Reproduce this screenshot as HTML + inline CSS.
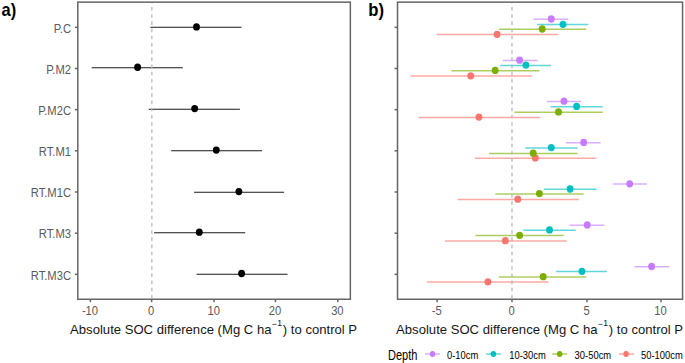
<!DOCTYPE html><html><head><meta charset="utf-8"><style>html,body{margin:0;padding:0;background:#fff;}svg{display:block;}text{font-family:"Liberation Sans",sans-serif;}</style></head><body>
<svg width="685" height="363" viewBox="0 0 685 363">
<rect width="685" height="363" fill="#fff"/>
<text transform="translate(1.60,16.20) scale(1,1.08)" font-size="16.5" fill="#000" font-weight="bold">a)</text>
<text transform="translate(368.20,16.10) scale(1,1.08)" font-size="16.7" fill="#000" font-weight="bold">b)</text>
<line x1="150.4" y1="27.30" x2="241.5" y2="27.30" stroke="#1a1a1a" stroke-width="1.1"/>
<line x1="91.7" y1="67.80" x2="182.8" y2="67.80" stroke="#1a1a1a" stroke-width="1.1"/>
<line x1="148.8" y1="109.30" x2="239.9" y2="109.30" stroke="#1a1a1a" stroke-width="1.1"/>
<line x1="171.2" y1="150.80" x2="262.1" y2="150.80" stroke="#1a1a1a" stroke-width="1.1"/>
<line x1="194.1" y1="192.20" x2="284.1" y2="192.20" stroke="#1a1a1a" stroke-width="1.1"/>
<line x1="154.1" y1="232.70" x2="245.2" y2="232.70" stroke="#1a1a1a" stroke-width="1.1"/>
<line x1="196.7" y1="274.20" x2="287.5" y2="274.20" stroke="#1a1a1a" stroke-width="1.1"/>
<line x1="533.3" y1="19.30" x2="568.3" y2="19.30" stroke="#C77CFF" stroke-width="1.5" stroke-opacity="0.62"/>
<line x1="537.1" y1="24.60" x2="588.2" y2="24.60" stroke="#00BFC4" stroke-width="1.5" stroke-opacity="0.62"/>
<line x1="498.8" y1="29.30" x2="586.4" y2="29.30" stroke="#7CAE00" stroke-width="1.5" stroke-opacity="0.62"/>
<line x1="436.8" y1="34.60" x2="558.3" y2="34.60" stroke="#F8766D" stroke-width="1.5" stroke-opacity="0.62"/>
<line x1="502.8" y1="60.50" x2="537.6" y2="60.50" stroke="#C77CFF" stroke-width="1.5" stroke-opacity="0.62"/>
<line x1="500.2" y1="65.40" x2="551.1" y2="65.40" stroke="#00BFC4" stroke-width="1.5" stroke-opacity="0.62"/>
<line x1="451.5" y1="70.70" x2="539.5" y2="70.70" stroke="#7CAE00" stroke-width="1.5" stroke-opacity="0.62"/>
<line x1="410.5" y1="76.10" x2="532.1" y2="76.10" stroke="#F8766D" stroke-width="1.5" stroke-opacity="0.62"/>
<line x1="546.9" y1="101.50" x2="581.1" y2="101.50" stroke="#C77CFF" stroke-width="1.5" stroke-opacity="0.62"/>
<line x1="550.6" y1="106.70" x2="602.8" y2="106.70" stroke="#00BFC4" stroke-width="1.5" stroke-opacity="0.62"/>
<line x1="514.4" y1="112.20" x2="602.8" y2="112.20" stroke="#7CAE00" stroke-width="1.5" stroke-opacity="0.62"/>
<line x1="418.6" y1="117.40" x2="540.2" y2="117.40" stroke="#F8766D" stroke-width="1.5" stroke-opacity="0.62"/>
<line x1="566.0" y1="142.70" x2="600.6" y2="142.70" stroke="#C77CFF" stroke-width="1.5" stroke-opacity="0.62"/>
<line x1="525.2" y1="147.90" x2="577.4" y2="147.90" stroke="#00BFC4" stroke-width="1.5" stroke-opacity="0.62"/>
<line x1="489.0" y1="153.50" x2="577.6" y2="153.50" stroke="#7CAE00" stroke-width="1.5" stroke-opacity="0.62"/>
<line x1="474.8" y1="158.20" x2="596.2" y2="158.20" stroke="#F8766D" stroke-width="1.5" stroke-opacity="0.62"/>
<line x1="612.7" y1="184.10" x2="647.0" y2="184.10" stroke="#C77CFF" stroke-width="1.5" stroke-opacity="0.62"/>
<line x1="544.0" y1="189.30" x2="596.4" y2="189.30" stroke="#00BFC4" stroke-width="1.5" stroke-opacity="0.62"/>
<line x1="495.4" y1="193.90" x2="583.7" y2="193.90" stroke="#7CAE00" stroke-width="1.5" stroke-opacity="0.62"/>
<line x1="457.6" y1="199.50" x2="579.1" y2="199.50" stroke="#F8766D" stroke-width="1.5" stroke-opacity="0.62"/>
<line x1="569.6" y1="225.30" x2="604.4" y2="225.30" stroke="#C77CFF" stroke-width="1.5" stroke-opacity="0.62"/>
<line x1="523.3" y1="230.20" x2="575.8" y2="230.20" stroke="#00BFC4" stroke-width="1.5" stroke-opacity="0.62"/>
<line x1="475.5" y1="235.60" x2="563.8" y2="235.60" stroke="#7CAE00" stroke-width="1.5" stroke-opacity="0.62"/>
<line x1="445.1" y1="241.00" x2="566.7" y2="241.00" stroke="#F8766D" stroke-width="1.5" stroke-opacity="0.62"/>
<line x1="634.4" y1="266.80" x2="669.4" y2="266.80" stroke="#C77CFF" stroke-width="1.5" stroke-opacity="0.62"/>
<line x1="556.1" y1="271.60" x2="607.1" y2="271.60" stroke="#00BFC4" stroke-width="1.5" stroke-opacity="0.62"/>
<line x1="498.8" y1="277.00" x2="586.4" y2="277.00" stroke="#7CAE00" stroke-width="1.5" stroke-opacity="0.62"/>
<line x1="426.9" y1="282.10" x2="548.5" y2="282.10" stroke="#F8766D" stroke-width="1.5" stroke-opacity="0.62"/>
<line x1="151.85" y1="2.15" x2="151.85" y2="299.26" stroke="#b8b8b8" stroke-width="1.3" stroke-dasharray="3.6 3.6" stroke-dashoffset="2.4"/>
<line x1="511.98" y1="2.15" x2="511.98" y2="299.26" stroke="#b8b8b8" stroke-width="1.3" stroke-dasharray="3.6 3.6" stroke-dashoffset="2.4"/>
<ellipse cx="196.5" cy="26.9" rx="3.45" ry="3.65" fill="#000"/>
<ellipse cx="137.6" cy="67.25" rx="3.45" ry="3.65" fill="#000"/>
<ellipse cx="194.7" cy="108.6" rx="3.45" ry="3.65" fill="#000"/>
<ellipse cx="216.3" cy="150.1" rx="3.45" ry="3.65" fill="#000"/>
<ellipse cx="238.9" cy="191.6" rx="3.45" ry="3.65" fill="#000"/>
<ellipse cx="199.3" cy="232.2" rx="3.45" ry="3.65" fill="#000"/>
<ellipse cx="241.6" cy="273.5" rx="3.45" ry="3.65" fill="#000"/>
<ellipse cx="497.1" cy="34.3" rx="3.45" ry="3.65" fill="#F8766D"/>
<ellipse cx="542.2" cy="29.0" rx="3.45" ry="3.65" fill="#7CAE00"/>
<ellipse cx="563.0" cy="24.3" rx="3.45" ry="3.65" fill="#00BFC4"/>
<ellipse cx="551.3" cy="19.0" rx="3.45" ry="3.65" fill="#C77CFF"/>
<ellipse cx="470.7" cy="75.8" rx="3.45" ry="3.65" fill="#F8766D"/>
<ellipse cx="495.2" cy="70.4" rx="3.45" ry="3.65" fill="#7CAE00"/>
<ellipse cx="525.9" cy="65.1" rx="3.45" ry="3.65" fill="#00BFC4"/>
<ellipse cx="519.6" cy="60.2" rx="3.45" ry="3.65" fill="#C77CFF"/>
<ellipse cx="478.9" cy="117.1" rx="3.45" ry="3.65" fill="#F8766D"/>
<ellipse cx="558.5" cy="111.9" rx="3.45" ry="3.65" fill="#7CAE00"/>
<ellipse cx="576.6" cy="106.4" rx="3.45" ry="3.65" fill="#00BFC4"/>
<ellipse cx="564.0" cy="101.2" rx="3.45" ry="3.65" fill="#C77CFF"/>
<ellipse cx="535.3" cy="157.9" rx="3.45" ry="3.65" fill="#F8766D"/>
<ellipse cx="533.2" cy="153.2" rx="3.45" ry="3.65" fill="#7CAE00"/>
<ellipse cx="551.3" cy="147.6" rx="3.45" ry="3.65" fill="#00BFC4"/>
<ellipse cx="583.7" cy="142.4" rx="3.45" ry="3.65" fill="#C77CFF"/>
<ellipse cx="517.8" cy="199.2" rx="3.45" ry="3.65" fill="#F8766D"/>
<ellipse cx="539.4" cy="193.6" rx="3.45" ry="3.65" fill="#7CAE00"/>
<ellipse cx="570.1" cy="189.0" rx="3.45" ry="3.65" fill="#00BFC4"/>
<ellipse cx="629.7" cy="183.8" rx="3.45" ry="3.65" fill="#C77CFF"/>
<ellipse cx="505.3" cy="240.7" rx="3.45" ry="3.65" fill="#F8766D"/>
<ellipse cx="519.6" cy="235.3" rx="3.45" ry="3.65" fill="#7CAE00"/>
<ellipse cx="549.5" cy="229.9" rx="3.45" ry="3.65" fill="#00BFC4"/>
<ellipse cx="587.2" cy="225.0" rx="3.45" ry="3.65" fill="#C77CFF"/>
<ellipse cx="487.9" cy="281.8" rx="3.45" ry="3.65" fill="#F8766D"/>
<ellipse cx="543.2" cy="276.7" rx="3.45" ry="3.65" fill="#7CAE00"/>
<ellipse cx="582.0" cy="271.3" rx="3.45" ry="3.65" fill="#00BFC4"/>
<ellipse cx="651.6" cy="266.5" rx="3.45" ry="3.65" fill="#C77CFF"/>
<rect x="77.8" y="2.15" width="272.55" height="297.11" fill="none" stroke="#666666" stroke-width="1.5"/>
<rect x="397.52" y="2.15" width="285.05" height="297.11" fill="none" stroke="#666666" stroke-width="1.5"/>
<line x1="74.85" y1="27.33" x2="77.80" y2="27.33" stroke="#666666" stroke-width="1.5"/>
<line x1="394.57" y1="27.33" x2="397.52" y2="27.33" stroke="#666666" stroke-width="1.5"/>
<text transform="translate(71.00,32.63) scale(1,1.06)" font-size="11.2" fill="#5a5a5a" text-anchor="end">P.C</text>
<line x1="74.85" y1="68.50" x2="77.80" y2="68.50" stroke="#666666" stroke-width="1.5"/>
<line x1="394.57" y1="68.50" x2="397.52" y2="68.50" stroke="#666666" stroke-width="1.5"/>
<text transform="translate(71.00,73.80) scale(1,1.06)" font-size="11.2" fill="#5a5a5a" text-anchor="end">P.M2</text>
<line x1="74.85" y1="109.66" x2="77.80" y2="109.66" stroke="#666666" stroke-width="1.5"/>
<line x1="394.57" y1="109.66" x2="397.52" y2="109.66" stroke="#666666" stroke-width="1.5"/>
<text transform="translate(71.00,114.96) scale(1,1.06)" font-size="11.2" fill="#5a5a5a" text-anchor="end">P.M2C</text>
<line x1="74.85" y1="150.83" x2="77.80" y2="150.83" stroke="#666666" stroke-width="1.5"/>
<line x1="394.57" y1="150.83" x2="397.52" y2="150.83" stroke="#666666" stroke-width="1.5"/>
<text transform="translate(71.00,156.13) scale(1,1.06)" font-size="11.2" fill="#5a5a5a" text-anchor="end">RT.M1</text>
<line x1="74.85" y1="192.00" x2="77.80" y2="192.00" stroke="#666666" stroke-width="1.5"/>
<line x1="394.57" y1="192.00" x2="397.52" y2="192.00" stroke="#666666" stroke-width="1.5"/>
<text transform="translate(71.00,197.30) scale(1,1.06)" font-size="11.2" fill="#5a5a5a" text-anchor="end">RT.M1C</text>
<line x1="74.85" y1="233.17" x2="77.80" y2="233.17" stroke="#666666" stroke-width="1.5"/>
<line x1="394.57" y1="233.17" x2="397.52" y2="233.17" stroke="#666666" stroke-width="1.5"/>
<text transform="translate(71.00,238.47) scale(1,1.06)" font-size="11.2" fill="#5a5a5a" text-anchor="end">RT.M3</text>
<line x1="74.85" y1="274.33" x2="77.80" y2="274.33" stroke="#666666" stroke-width="1.5"/>
<line x1="394.57" y1="274.33" x2="397.52" y2="274.33" stroke="#666666" stroke-width="1.5"/>
<text transform="translate(71.00,279.63) scale(1,1.06)" font-size="11.2" fill="#5a5a5a" text-anchor="end">RT.M3C</text>
<line x1="90.36" y1="299.26" x2="90.36" y2="302.21" stroke="#666666" stroke-width="1.5"/>
<text transform="translate(89.96,314.50) scale(1,1.08)" font-size="11.2" fill="#5a5a5a" text-anchor="middle">-10</text>
<line x1="151.63" y1="299.26" x2="151.63" y2="302.21" stroke="#666666" stroke-width="1.5"/>
<text transform="translate(151.23,314.50) scale(1,1.08)" font-size="11.2" fill="#5a5a5a" text-anchor="middle">0</text>
<line x1="214.06" y1="299.26" x2="214.06" y2="302.21" stroke="#666666" stroke-width="1.5"/>
<text transform="translate(213.66,314.50) scale(1,1.08)" font-size="11.2" fill="#5a5a5a" text-anchor="middle">10</text>
<line x1="275.44" y1="299.26" x2="275.44" y2="302.21" stroke="#666666" stroke-width="1.5"/>
<text transform="translate(275.04,314.50) scale(1,1.08)" font-size="11.2" fill="#5a5a5a" text-anchor="middle">20</text>
<line x1="337.76" y1="299.26" x2="337.76" y2="302.21" stroke="#666666" stroke-width="1.5"/>
<text transform="translate(337.36,314.50) scale(1,1.08)" font-size="11.2" fill="#5a5a5a" text-anchor="middle">30</text>
<line x1="437.13" y1="299.26" x2="437.13" y2="302.21" stroke="#666666" stroke-width="1.5"/>
<text transform="translate(436.73,314.50) scale(1,1.08)" font-size="11.2" fill="#5a5a5a" text-anchor="middle">-5</text>
<line x1="511.98" y1="299.26" x2="511.98" y2="302.21" stroke="#666666" stroke-width="1.5"/>
<text transform="translate(511.58,314.50) scale(1,1.08)" font-size="11.2" fill="#5a5a5a" text-anchor="middle">0</text>
<line x1="586.98" y1="299.26" x2="586.98" y2="302.21" stroke="#666666" stroke-width="1.5"/>
<text transform="translate(586.58,314.50) scale(1,1.08)" font-size="11.2" fill="#5a5a5a" text-anchor="middle">5</text>
<line x1="660.98" y1="299.26" x2="660.98" y2="302.21" stroke="#666666" stroke-width="1.5"/>
<text transform="translate(660.58,314.50) scale(1,1.08)" font-size="11.2" fill="#5a5a5a" text-anchor="middle">10</text>
<text transform="translate(213.6,334.2) scale(1,1.04)" font-size="13.1" fill="#161616" text-anchor="middle">Absolute SOC difference (Mg C ha<tspan font-size="8.6" dx="0.2" dy="-6.5">−</tspan><tspan font-size="8.6" dx="0.5" dy="-1.5">1</tspan><tspan dx="0.9" dy="8.0">) to control P</tspan></text>
<text transform="translate(539.6,334.2) scale(1,1.04)" font-size="13.1" fill="#161616" text-anchor="middle">Absolute SOC difference (Mg C ha<tspan font-size="8.6" dx="0.2" dy="-6.5">−</tspan><tspan font-size="8.6" dx="0.5" dy="-1.5">1</tspan><tspan dx="0.9" dy="8.0">) to control P</tspan></text>
<text transform="translate(388.00,359.70) scale(1,1.25)" font-size="11" fill="#000">Depth</text>
<line x1="425" y1="354.0" x2="440" y2="354.0" stroke="#C77CFF" stroke-width="1.5" stroke-opacity="0.62"/>
<ellipse cx="432.5" cy="354.0" rx="2.75" ry="3.0" fill="#C77CFF"/>
<text transform="translate(447.00,358.70) scale(1,1.1)" font-size="9.4" fill="#000">0-10cm</text>
<line x1="486" y1="354.0" x2="501" y2="354.0" stroke="#00BFC4" stroke-width="1.5" stroke-opacity="0.62"/>
<ellipse cx="493.4" cy="354.0" rx="2.75" ry="3.0" fill="#00BFC4"/>
<text transform="translate(509.20,358.70) scale(1,1.1)" font-size="9.4" fill="#000">10-30cm</text>
<line x1="552.2" y1="354.0" x2="567.2" y2="354.0" stroke="#7CAE00" stroke-width="1.5" stroke-opacity="0.62"/>
<ellipse cx="559.7" cy="354.0" rx="2.75" ry="3.0" fill="#7CAE00"/>
<text transform="translate(574.60,358.70) scale(1,1.1)" font-size="9.4" fill="#000">30-50cm</text>
<line x1="619" y1="354.0" x2="634" y2="354.0" stroke="#F8766D" stroke-width="1.5" stroke-opacity="0.62"/>
<ellipse cx="626.1" cy="354.0" rx="2.75" ry="3.0" fill="#F8766D"/>
<text transform="translate(641.00,358.70) scale(1,1.1)" font-size="9.4" fill="#000">50-100cm</text>
</svg></body></html>
